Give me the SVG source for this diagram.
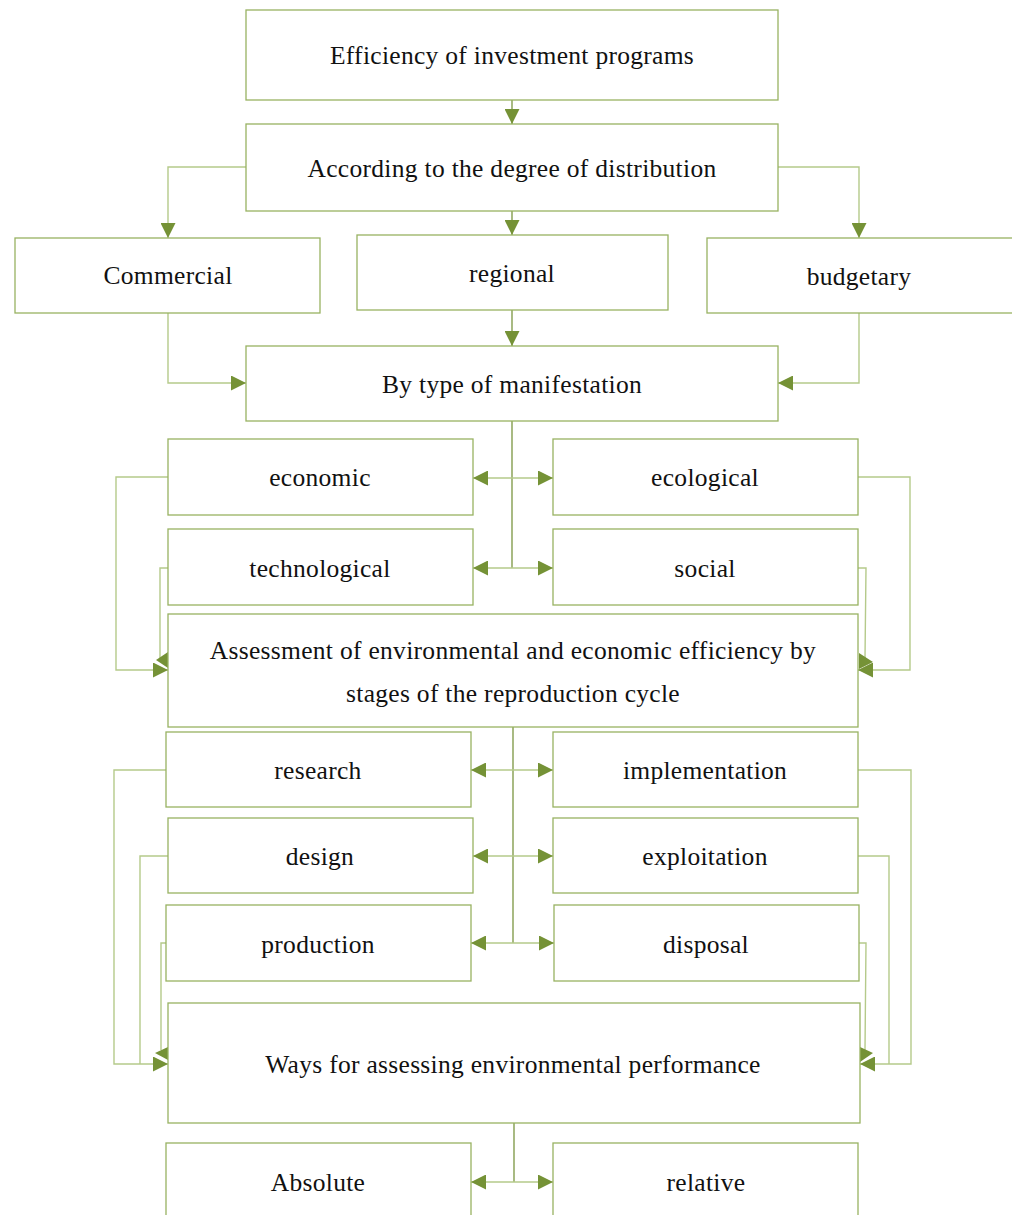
<svg xmlns="http://www.w3.org/2000/svg" width="1012" height="1215" viewBox="0 0 1012 1215">
  <style>
    .box rect { fill: #ffffff; stroke: #98b262; stroke-width: 1.3; }
    .box text { font-family: "Liberation Serif", "Times New Roman", serif; font-size: 25.5px; letter-spacing: 0.3px; fill: #111111; text-anchor: middle; }
    .link { fill: none; stroke: #b5ca8a; stroke-width: 1.4; }
    .trunk { fill: none; stroke: #7a9540; stroke-width: 1.3; }
    .head { fill: #759236; stroke: none; }
  </style>
  <defs>
    <marker id="arrow" viewBox="0 0 14 14" refX="14" refY="7" markerWidth="15" markerHeight="15" markerUnits="userSpaceOnUse" orient="auto-start-reverse">
      <path d="M0,0 L14,7 L0,14 z" fill="#759236"/>
    </marker>
  </defs>

  <!-- connectors -->
  <g id="connectors">
    <path class="trunk" d="M512,100 V124" marker-end="url(#arrow)"/>
    <path class="link" d="M246,167 H168 V238" marker-end="url(#arrow)"/>
    <path class="link" d="M778,167 H859 V238" marker-end="url(#arrow)"/>
    <path class="trunk" d="M512,211 V235" marker-end="url(#arrow)"/>
    <path class="link" d="M168,313 V383 H246" marker-end="url(#arrow)"/>
    <path class="link" d="M859,313 V383 H778" marker-end="url(#arrow)"/>
    <path class="trunk" d="M512,310 V346" marker-end="url(#arrow)"/>

    <!-- manifestation branches -->
    <path class="trunk" d="M512,421 V568"/>
    <path class="link" d="M473,478 H553" marker-start="url(#arrow)" marker-end="url(#arrow)"/>
    <path class="link" d="M473,568 H553" marker-start="url(#arrow)" marker-end="url(#arrow)"/>
    <path class="link" d="M168,477 H116 V670 H168" marker-end="url(#arrow)"/>
    <path class="link" d="M168,568 H160 V658"/>
    <polygon class="head" points="168,652 156,660 168,668"/>
    <path class="link" d="M858,477 H910 V670 H858" marker-end="url(#arrow)"/>
    <path class="link" d="M858,568 H866 L865,658"/>
    <polygon class="head" points="859,653 873,662 859,669"/>

    <!-- reproduction-cycle branches -->
    <path class="trunk" d="M513,727 V943"/>
    <path class="link" d="M471,770 H553" marker-start="url(#arrow)" marker-end="url(#arrow)"/>
    <path class="link" d="M473,856 H553" marker-start="url(#arrow)" marker-end="url(#arrow)"/>
    <path class="link" d="M471,943 H554" marker-start="url(#arrow)" marker-end="url(#arrow)"/>
    <path class="link" d="M166,770 H114 V1064 H168" marker-end="url(#arrow)"/>
    <path class="link" d="M168,856 H140 V1064"/>
    <path class="link" d="M166,943 H161 V1050"/>
    <polygon class="head" points="168,1047 155,1053 168,1060"/>
    <path class="link" d="M858,770 H911 V1064 H860" marker-end="url(#arrow)"/>
    <path class="link" d="M858,856 H889 V1064"/>
    <path class="link" d="M859,943 H866 L865,1050"/>
    <polygon class="head" points="860,1047 873,1053 860,1062"/>

    <!-- assessment ways -->
    <path class="trunk" d="M514,1123 V1182"/>
    <path class="link" d="M471,1182 H553" marker-start="url(#arrow)" marker-end="url(#arrow)"/>
  </g>

  <!-- nodes -->
  <g id="n-efficiency" class="box"><rect x="246" y="10" width="532" height="90"/><text x="512" y="64">Efficiency of investment programs</text></g>
  <g id="n-distribution" class="box"><rect x="246" y="124" width="532" height="87"/><text x="512" y="177">According to the degree of distribution</text></g>
  <g id="n-commercial" class="box"><rect x="15" y="238" width="305" height="75"/><text x="168" y="284">Commercial</text></g>
  <g id="n-regional" class="box"><rect x="357" y="235" width="311" height="75"/><text x="512" y="282">regional</text></g>
  <g id="n-budgetary" class="box"><rect x="707" y="238" width="310" height="75"/><text x="859" y="285">budgetary</text></g>
  <g id="n-manifestation" class="box"><rect x="246" y="346" width="532" height="75"/><text x="512" y="393">By type of manifestation</text></g>
  <g id="n-economic" class="box"><rect x="168" y="439" width="305" height="76"/><text x="320" y="486">economic</text></g>
  <g id="n-ecological" class="box"><rect x="553" y="439" width="305" height="76"/><text x="705" y="486">ecological</text></g>
  <g id="n-technological" class="box"><rect x="168" y="529" width="305" height="76"/><text x="320" y="577">technological</text></g>
  <g id="n-social" class="box"><rect x="553" y="529" width="305" height="76"/><text x="705" y="577">social</text></g>
  <g id="n-assessment" class="box"><rect x="168" y="614" width="690" height="113"/><text x="513" y="659">Assessment of environmental and economic efficiency by</text><text x="513" y="702">stages of the reproduction cycle</text></g>
  <g id="n-research" class="box"><rect x="166" y="732" width="305" height="75"/><text x="318" y="779">research</text></g>
  <g id="n-implementation" class="box"><rect x="553" y="732" width="305" height="75"/><text x="705" y="779">implementation</text></g>
  <g id="n-design" class="box"><rect x="168" y="818" width="305" height="75"/><text x="320" y="865">design</text></g>
  <g id="n-exploitation" class="box"><rect x="553" y="818" width="305" height="75"/><text x="705" y="865">exploitation</text></g>
  <g id="n-production" class="box"><rect x="166" y="905" width="305" height="76"/><text x="318" y="953">production</text></g>
  <g id="n-disposal" class="box"><rect x="554" y="905" width="305" height="76"/><text x="706" y="953">disposal</text></g>
  <g id="n-ways" class="box"><rect x="168" y="1003" width="692" height="120"/><text x="513" y="1073">Ways for assessing environmental performance</text></g>
  <g id="n-absolute" class="box"><rect x="166" y="1143" width="305" height="90"/><text x="318" y="1191">Absolute</text></g>
  <g id="n-relative" class="box"><rect x="553" y="1143" width="305" height="90"/><text x="706" y="1191">relative</text></g>
</svg>
